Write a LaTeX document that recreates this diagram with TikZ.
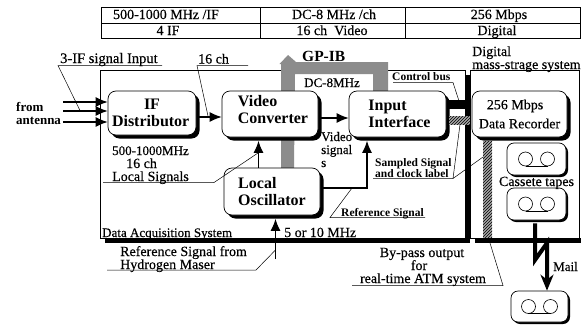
\documentclass[tikz,border=0pt]{standalone}
\usepackage{fontspec}
\setmainfont{Liberation Serif}
\newfontfamily\semi[FakeBold=0.35]{Liberation Serif}
\usetikzlibrary{arrows.meta,patterns,shadows,calc}
\tikzset{
  x=1pt,y=-1pt,
  blk/.style={draw=black,line width=.7pt,fill=white,rounded corners=8pt,inner sep=0pt,align=left,
    general shadow={fill=black,shadow xshift=3.5pt,shadow yshift=-3.5pt}},
  bb/.style={blk,font=\fontsize{16}{17}\bfseries\selectfont},
  rb/.style={blk,font=\fontsize{14}{19}\semi\selectfont},
  tape/.style={draw=black,line width=.7pt,fill=white,rounded corners=7pt,inner sep=0pt,
    general shadow={fill=black,shadow xshift=2pt,shadow yshift=-2pt}},
  lbl/.style={inner sep=0pt,anchor=base west,font=\fontsize{14}{14}\semi\selectfont},
  lbn/.style={lbl,font=\fontsize{13}{13}\semi\selectfont},
  lbc/.style={lbl,anchor=base},
  sml/.style={lbl,font=\fontsize{11.5}{12}\bfseries\selectfont},
  med/.style={lbl,font=\fontsize{13}{13}\bfseries\selectfont},
  flow/.style={line width=1.2pt,-{Latex[length=12pt,width=10pt]}},
  lead/.style={line width=.5pt},
  gridline/.style={line width=.8pt},
  bus/.style={fill=gray!90},
  hatch/.style={pattern=north east lines,pattern color=black},
}
\begin{document}
\begin{tikzpicture}
\useasboundingbox (0,0) rectangle (581,327);
\fill[white] (0,0) rectangle (581,327);

% table
\draw[gridline] (101,7.5) rectangle (580.5,38);
\draw[line width=1pt] (101,23) -- (580.5,23);
\draw[gridline] (260,7.5) -- (260,38) (405.5,7.5) -- (405.5,38);
\node[lbc] (t11) at (166,19) {500-1000 MHz /IF};
\node[lbc] (t12) at (334,19) {DC-8 MHz /ch};
\node[lbc] (t13) at (499,19) {256 Mbps};
\node[lbc] (t21) at (168,35) {4 IF};
\node[lbc] (t22) at (332,35) {16 ch\ \ Video};
\node[lbc] (t23) at (497,35) {Digital};

% frames
\node[draw=black,line width=.7pt,fill=white,minimum width=365pt,minimum height=168pt,inner sep=0pt,
  general shadow={fill=black,shadow xshift=4.5pt,shadow yshift=-4.5pt}] (das) at (282.5,154) {};
\fill[black] (475,238) rectangle (581,243);
\node[draw=black,line width=.7pt,fill=white,minimum width=109pt,minimum height=168pt,inner sep=0pt] (dms) at (525,154) {};

% GP-IB bus
\path[bus] (281,168) -- (281,64) -- (279.5,64) -- (288,55) -- (296,62) -- (388,62) -- (388,92)
  -- (373,92) -- (373,74) -- (295,74) -- (294,168) -- cycle;

% function blocks
\node[bb,minimum width=88pt,minimum height=44pt] (ifd) at (152,113) {\makebox[80pt][c]{IF}\\Distributor};
\node[bb,minimum width=96pt,minimum height=46pt] (vc) at (270,114) {\hspace*{6pt}Video\\\hspace*{6pt}Converter\rule[-10pt]{0pt}{1pt}};
\node[bb,minimum width=96pt,minimum height=47pt] (lo) at (272,191.5) {Local\\Oscillator};
\node[bb,minimum width=97pt,minimum height=46pt] (ii) at (397.5,114) {\hspace*{4pt}Input\\\hspace*{4pt}Interface};
\node[rb,minimum width=95pt,minimum height=46pt] (dr) at (519.5,114) {\hspace*{8pt}256 Mbps\\Data Recorder};

% tapes
\node[tape,minimum width=59pt,minimum height=32pt] (ta) at (536.5,159) {};
\node[tape,minimum width=59pt,minimum height=32pt] (tb) at (536.5,204) {};
\node[tape,minimum width=57pt,minimum height=31pt] (tc) at (539.5,306.5) {};
\foreach \t in {ta,tb,tc}{
  \draw[line width=.6pt] ([xshift=-11pt]\t.center) circle (7pt);
  \draw[line width=.6pt] ([xshift=11pt]\t.center) circle (7pt);
  \draw[line width=.6pt] ([xshift=-11pt,yshift=-7pt]\t.center) -- ([xshift=11pt,yshift=-7pt]\t.center);
}

% buses between blocks
\fill[black] (449,100) rectangle (470,109);
\path[fill=gray!70] (449,116) rectangle (470,124.5);
\path[hatch] (449,116) rectangle (470,124.5);
\path[fill=gray!70] (483,141) rectangle (492,238);
\path[hatch] (483,141) rectangle (492,238);

% antenna inputs
\coordinate (ant1) at (63,102);
\coordinate (ant2) at (63,111);
\coordinate (ant3) at (63,122);
\draw[flow] (ant1) -- (ifd.west |- ant1);
\draw[flow] (ant2) -- (ifd.west |- ant2);
\draw[flow] (ant3) -- (ifd.west |- ant3);
\coordinate (r1) at (0,117);
\coordinate (r2) at (0,118);
\draw[flow] ([xshift=3pt]ifd.east |- r1) -- (vc.west |- r1);
\draw[flow] ([xshift=3pt]vc.east |- r2) -- (ii.west |- r2);
\coordinate (xa) at (258.5,0);
\coordinate (xb) at (367,0);
\draw[flow] (xa |- lo.north) -- ([yshift=-3.5pt]xa |- vc.south);
\draw[flow] ([xshift=3pt]lo.east |- 0,188) -- (xb |- 0,188) -- ([yshift=-3.5pt]xb |- ii.south);
\coordinate (refin) at (275.5,259);
\draw[flow] (refin) -- ([yshift=-3.5pt]refin |- lo.south);

% mail arrow
\coordinate (m1) at (535,260);
\coordinate (m2) at (547,243);
\draw[line width=4pt,-{Stealth[length=16pt,width=13pt,inset=5pt]}] ([yshift=-3pt]tb.south -| m1) -- (m1) -- (m2) -- (m2 |- tc.north);

% labels
\node[lbl,font=\fontsize{14.5}{14}\semi\selectfont] (l3if) at (60,63) {3-IF signal Input};
\coordinate (u3a) at (58,65.5); \coordinate (u3b) at (162,65.5); \coordinate (u3c) at (80,110.5);
\draw[lead] (u3b) -- (u3a) -- (u3c);
\node[lbl] (l16) at (198,63.5) {16 ch};
\coordinate (u16a) at (197,65.5); \coordinate (u16b) at (248,65.5); \coordinate (u16c) at (208,116);
\draw[lead] (u16b) -- (u16a) -- (u16c);
\node[med] (lfrom) at (16,111) {from};
\node[med] (lant) at (16,124) {antenna};
\node[lbn] (lmhz) at (112,155) {500-1000MHz};
\node[lbl] (l16b) at (126,168) {16 ch};
\node[lbl] (lls) at (112,181) {Local Signals};
\coordinate (lsa) at (103,182.5); \coordinate (lsb) at (214,182.5); \coordinate (lsc) at (258,153);
\draw[lead] (lsa) -- (lsb) -- (lsc);
\node[lbl,font=\fontsize{15.5}{16}\bfseries\selectfont] (lgp) at (302,61) {GP-IB};
\node[lbn] (ldc) at (304,87) {DC-8MHz};
\node[sml] (lcb) at (392,80) {Control bus};
\coordinate (cba) at (393,82.5); \coordinate (cbb) at (453,82.5); \coordinate (cbc) at (459,101);
\draw[lead] (cba) -- (cbb) -- (cbc);
\node[lbn] (lvs1) at (321,141) {Video};
\node[lbn] (lvs2) at (321,154) {signal};
\node[lbn] (lvs3) at (321,167) {s};
\node[sml] (lss) at (375,166.5) {Sampled Signal};
\node[sml] (lck) at (375,177) {and clock label};
\coordinate (ssa) at (373,178.5); \coordinate (ssb) at (453,178.5); \coordinate (ssc) at (460,124.5); \coordinate (ssd) at (483,157);
\draw[lead] (ssa) -- (ssb) -- (ssc) (ssb) -- (ssd);
\node[sml] (lrs) at (341,216) {Reference Signal};
\coordinate (rsa) at (425,217.5); \coordinate (rsb) at (330,217.5); \coordinate (rsc) at (352,188);
\draw[lead] (rsa) -- (rsb) -- (rsc);
\node[lbn] (lda) at (102,237) {Data Acquisition System};
\node[lbl] (l510) at (284,237) {5 or 10 MHz};
\node[lbl] (lrf1) at (120,256) {Reference Signal from};
\node[lbl] (lrf2) at (120,269) {Hydrogen Maser};
\coordinate (rfa) at (107,270); \coordinate (rfb) at (256,270);
\draw[lead] (rfa) -- (rfb) -- (refin |- 0,250);
\node[lbl] (ldg) at (472,56) {Digital};
\node[lbl] (lms) at (472,69) {mass-strage system};
\node[lbc] (lct) at (536.5,186) {Cassete tapes};
\node[lbc] (lby1) at (422,257) {By-pass output};
\node[lbc] (lby2) at (419,270) {for};
\node[lbc] (lby3) at (423,283) {real-time ATM system};
\coordinate (bya) at (352,285.5); \coordinate (byb) at (503,285.5); \coordinate (byc) at (490,243);
\draw[lead] (bya) -- (byb) -- (byc);
\node[lbn] (lml) at (553,271) {Mail};
\end{tikzpicture}
\end{document}
